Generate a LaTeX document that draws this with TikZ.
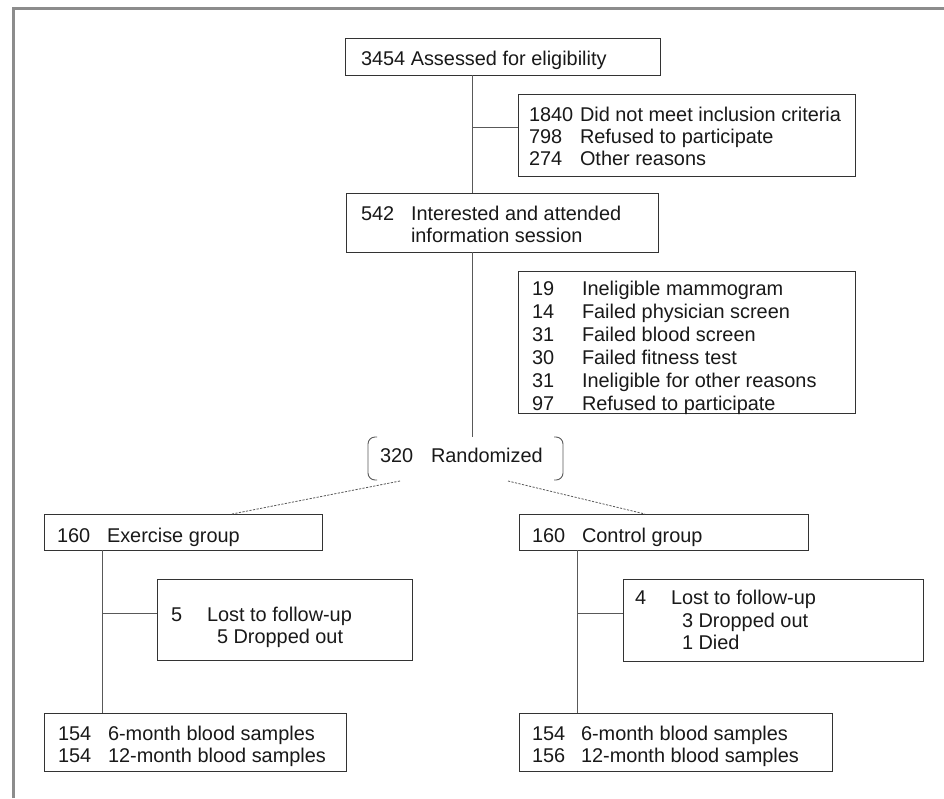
\documentclass[tikz,border=0pt]{standalone}
\usepackage{fontspec}
\setmainfont{Liberation Sans}
\begin{document}
\begin{tikzpicture}[x=1pt,y=-1pt,
  box/.style={draw=black!80, line width=0.9pt, inner sep=0pt, outer sep=0pt, anchor=north west},
  conn/.style={draw=black!65, line width=0.9pt},
  dotline/.style={draw=black!65, line width=0.8pt, dash pattern=on 2.2pt off 1.4pt},
  txt/.style={anchor=base west, inner sep=0pt, outer sep=0pt, text=black!90,
    font=\fontsize{19.9}{22.5}\selectfont},
  frame/.style={draw=black!45, line width=3pt}]
\useasboundingbox (0,0) rectangle (944,798);
\fill[white] (0,0) rectangle (944,798);
\draw[frame] (13.5,798) -- (13.5,8.5) -- (944,8.5);

% boxes
\node[box, minimum width=315pt, minimum height=37pt] (b1) at (345,38) {};
\node[box, minimum width=337pt, minimum height=82pt] (b2) at (518,94) {};
\node[box, minimum width=312pt, minimum height=59pt] (b3) at (346,193) {};
\node[box, minimum width=337pt, minimum height=142pt] (b4) at (518,271) {};
\node[inner sep=0pt, outer sep=0pt, anchor=north west, minimum width=195pt, minimum height=43pt] (rand) at (368,437) {};
\node[box, minimum width=278pt, minimum height=36pt] (ex) at (44,514) {};
\node[box, minimum width=255pt, minimum height=81pt] (exl) at (157,579) {};
\node[box, minimum width=302pt, minimum height=58pt] (exs) at (44,713) {};
\node[box, minimum width=289pt, minimum height=36pt] (co) at (519,514) {};
\node[box, minimum width=300pt, minimum height=82pt] (col) at (623,579) {};
\node[box, minimum width=313pt, minimum height=58pt] (cos) at (519,713) {};

% texts
\node[txt] (t1) at (361,65) {3454 Assessed for eligibility};
\node[txt] (t2a) at (529,121) {1840};
\node[txt] (t2b) at (580,121) {Did not meet inclusion criteria};
\node[txt] (t2c) at (529,143) {798};
\node[txt] (t2d) at (580,143) {Refused to participate};
\node[txt] (t2e) at (529,165) {274};
\node[txt] (t2f) at (580,165) {Other reasons};
\node[txt] (t3a) at (361,220) {542};
\node[txt] (t3b) at (411,220) {Interested and attended};
\node[txt] (t3c) at (411,242) {information session};
\node[txt] (t4a) at (532,295) {19};
\node[txt] (t4b) at (582,295) {Ineligible mammogram};
\node[txt] (t4c) at (532,318) {14};
\node[txt] (t4d) at (582,318) {Failed physician screen};
\node[txt] (t4e) at (532,341) {31};
\node[txt] (t4f) at (582,341) {Failed blood screen};
\node[txt] (t4g) at (532,364) {30};
\node[txt] (t4h) at (582,364) {Failed fitness test};
\node[txt] (t4i) at (532,387) {31};
\node[txt] (t4j) at (582,387) {Ineligible for other reasons};
\node[txt] (t4k) at (532,410) {97};
\node[txt] (t4l) at (582,410) {Refused to participate};
\node[txt] (tra) at (380,462) {320};
\node[txt] (trb) at (431,462) {Randomized};
\node[txt] (tea) at (57,542) {160};
\node[txt] (teb) at (107,542) {Exercise group};
\node[txt] (tla) at (171,621) {5};
\node[txt] (tlb) at (207,621) {Lost to follow-up};
\node[txt] (tlc) at (217,643) {5 Dropped out};
\node[txt] (tsa) at (58,740) {154};
\node[txt] (tsb) at (108,740) {6-month blood samples};
\node[txt] (tsc) at (58,762) {154};
\node[txt] (tsd) at (108,762) {12-month blood samples};
\node[txt] (tca) at (532,542) {160};
\node[txt] (tcb) at (582,542) {Control group};
\node[txt] (tma) at (635,604) {4};
\node[txt] (tmb) at (671,604) {Lost to follow-up};
\node[txt] (tmc) at (682,627) {3 Dropped out};
\node[txt] (tmd) at (682,649) {1 Died};
\node[txt] (tua) at (532,740) {154};
\node[txt] (tub) at (581,740) {6-month blood samples};
\node[txt] (tuc) at (532,762) {156};
\node[txt] (tud) at (581,762) {12-month blood samples};

% randomized brackets
\draw[conn, rounded corners=7pt] ([xshift=9pt]rand.north west) -- (rand.north west) -- (rand.south west) -- ([xshift=9pt]rand.south west);
\draw[conn, rounded corners=7pt] ([xshift=-9pt]rand.north east) -- (rand.north east) -- (rand.south east) -- ([xshift=-9pt]rand.south east);

% helper coordinates
\coordinate (v1) at (472,0);
\coordinate (h1) at (0,127);
\coordinate (v2) at (102,0);
\coordinate (v3) at (577,0);
\coordinate (h2) at (0,613);
\coordinate (dl1) at (400,481);
\coordinate (dl2) at (232,514);
\coordinate (dr1) at (508,481);
\coordinate (dr2) at (645,514);

% connectors
\draw[conn] (b1.south -| v1) -- (b3.north -| v1);
\draw[conn] (v1 |- h1) -- (b2.west |- h1);
\draw[conn] (b3.south -| v1) -- (rand.north -| v1);
\draw[dotline] (dl1) -- (dl2);
\draw[dotline] (dr1) -- (dr2);
\draw[conn] (ex.south -| v2) -- (exs.north -| v2);
\draw[conn] (v2 |- h2) -- (exl.west |- h2);
\draw[conn] (co.south -| v3) -- (cos.north -| v3);
\draw[conn] (v3 |- h2) -- (col.west |- h2);
\end{tikzpicture}
\end{document}
